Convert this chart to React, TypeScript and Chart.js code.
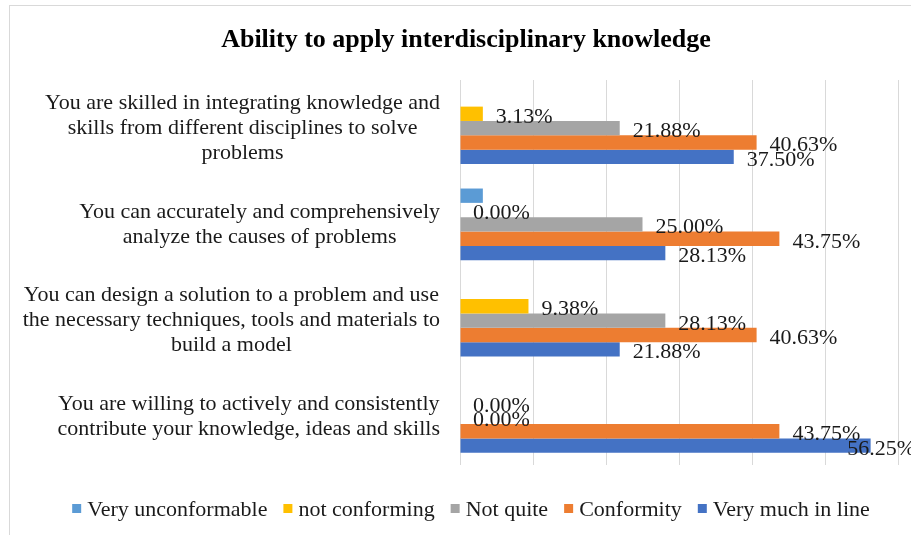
import React, { useEffect, useRef } from 'react';
import { Chart, registerables } from 'chart.js';

Chart.register(...registerables);

const titleText = 'Ability to apply interdisciplinary knowledge';
const categories = [
  ['You are skilled in integrating knowledge and', 'skills from different disciplines to solve', 'problems'],
  ['You can accurately and comprehensively', 'analyze the causes of problems'],
  ['You can design a solution to a problem and use', 'the necessary techniques, tools and materials to', 'build a model'],
  ['You are willing to actively and consistently', 'contribute your knowledge, ideas and skills'],
];
const seriesNames = ['Very unconformable', 'not conforming', 'Not quite', 'Conformity', 'Very much in line'];
const veryUnconformable = [0, 3.13, 0, 0];
const notConforming = [3.13, 0, 9.38, 0];
const notQuite = [21.88, 25.0, 28.13, 0];
const conformity = [40.63, 43.75, 40.63, 43.75];
const veryMuchInLine = [37.5, 28.13, 21.88, 56.25];
const xMin = 0;
const xMax = 60;
const xStep = 10;

const seriesValues = [veryUnconformable, notConforming, notQuite, conformity, veryMuchInLine];
const colors = ['#5B9BD5', '#FFC000', '#A5A5A5', '#ED7D31', '#4472C4'];
const showLabels = [false, true, true, true, true];

const FONT = '"Liberation Serif", "Times New Roman", serif';
const TEXT_SIZE = 22;

const decorPlugin = {
  id: 'decor',
  beforeDraw(chart: any) {
    const { ctx, width, height } = chart;
    ctx.save();
    ctx.fillStyle = '#ffffff';
    ctx.fillRect(0, 0, width, height);
    ctx.strokeStyle = '#d9d9d9';
    ctx.lineWidth = 1;
    ctx.strokeRect(9.5, 5.5, width + 50, height + 50);
    ctx.restore();
  },
  afterDatasetsDraw(chart: any) {
    const { ctx } = chart;
    const yScale = chart.scales.y;
    ctx.save();

    // category labels
    ctx.font = `${TEXT_SIZE}px ${FONT}`;
    ctx.fillStyle = '#1a1a1a';
    ctx.textAlign = 'center';
    ctx.textBaseline = 'middle';
    (chart.data.labels as string[][]).forEach((lines, i) => {
      const cy = yScale.getPixelForValue(i);
      const w = Math.max(...lines.map((l) => ctx.measureText(l).width));
      const cx = 440 - w / 2;
      const lh = 25;
      lines.forEach((l, j) => {
        ctx.fillText(l, cx, cy + (j - (lines.length - 1) / 2) * lh);
      });
    });

    // data labels
    ctx.textAlign = 'left';
    ctx.textBaseline = 'alphabetic';
    chart.data.datasets.forEach((ds: any, di: number) => {
      if (!showLabels[di]) return;
      const meta = chart.getDatasetMeta(di);
      meta.data.forEach((bar: any, i: number) => {
        const v = ds.data[i] as number;
        const txt = v.toFixed(2) + '%';
        const tw = ctx.measureText(txt).width;
        let x = bar.x + 13;
        if (x + tw > 915) x = 915 - tw;
        ctx.fillText(txt, x, bar.y + 9);
      });
    });

    // title
    ctx.font = `bold 26px ${FONT}`;
    ctx.fillStyle = '#000000';
    ctx.textAlign = 'center';
    ctx.fillText(titleText, 466, 47);

    // legend
    ctx.font = `${TEXT_SIZE}px ${FONT}`;
    ctx.textAlign = 'left';
    const box = 9;
    const gapText = 6;
    const gapItem = 16;
    const names = chart.data.datasets.map((d: any) => d.label as string);
    const widths = names.map((n: string) => box + gapText + ctx.measureText(n).width);
    const total = widths.reduce((a: number, b: number) => a + b, 0) + gapItem * (names.length - 1);
    let x = 471 - total / 2;
    names.forEach((n: string, i: number) => {
      ctx.fillStyle = chart.data.datasets[i].backgroundColor;
      ctx.fillRect(x, 504, box, box);
      ctx.fillStyle = '#1a1a1a';
      ctx.fillText(n, x + box + gapText, 516);
      x += widths[i] + gapItem;
    });

    ctx.restore();
  },
};

export default function App() {
  const ref = useRef<HTMLCanvasElement | null>(null);

  useEffect(() => {
    if (!ref.current) return;
    const chart = new Chart(ref.current, {
      type: 'bar',
      data: {
        labels: categories as any,
        datasets: seriesNames.map((name, i) => ({
          label: name,
          data: seriesValues[i],
          backgroundColor: colors[i],
          borderWidth: 0,
          categoryPercentage: 0.745,
          barPercentage: 1,
        })),
      },
      options: {
        indexAxis: 'y',
        animation: false,
        responsive: false,
        devicePixelRatio: 1,
        layout: { padding: { left: 460, right: 13, top: 80, bottom: 70 } },
        plugins: {
          legend: { display: false },
          title: { display: false },
          tooltip: { enabled: false },
        },
        scales: {
          x: {
            min: xMin,
            max: xMax,
            ticks: { display: false, stepSize: xStep },
            grid: { color: '#d9d9d9', lineWidth: 1, drawTicks: false },
            border: { display: false },
          },
          y: {
            display: false,
          },
        },
      },
      plugins: [decorPlugin],
    });
    return () => chart.destroy();
  }, []);

  return (
    <div style={{ position: 'absolute', left: 0, top: 0, width: 911, height: 535 }}>
      <canvas ref={ref} width={911} height={535} style={{ display: 'block' }} />
    </div>
  );
}
